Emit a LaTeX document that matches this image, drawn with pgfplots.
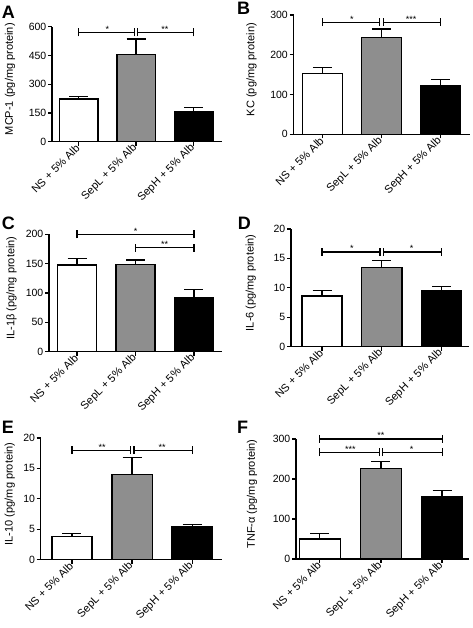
\documentclass[border=0pt]{standalone}
\usepackage{fontspec}
\setmainfont{Liberation Sans}
\usepackage{pgfplots}
\pgfplotsset{compat=1.18}
\definecolor{midgray}{HTML}{8E8E8E}
\pgfplotsset{
  panel/.style={
    scale only axis,
    anchor=south west,
    axis x line*=bottom, axis y line*=left,
    axis line style={line width=1.4pt, black},
    tick style={line width=1.3pt, black},
    major tick length=4pt,
    tick align=outside,
    xtick={0,1,2},
    xticklabels={NS + 5\% Alb, SepL + 5\% Alb, SepH + 5\% Alb},
    xticklabel style={rotate=45, anchor=east, font=\fontsize{11}{13}\selectfont, inner sep=1pt},
    yticklabel style={font=\fontsize{10.5}{12}\selectfont, inner sep=1.5pt},
    /pgf/number format/assume math mode=true,
    ymin=0,
    clip=false,
    every axis y label/.style={rotate=90, anchor=center, font=\fontsize{11}{13}\selectfont},
  },
  ylab/.style={every axis y label/.append style={at={([xshift=-#1, yshift=5pt]axis description cs:0,0.5)}}},
  bbar/.style={ybar, bar width=0.67, draw=black, line width=1.4pt,
     error bars/y dir=plus, error bars/y explicit,
     error bars/error mark=|,
     error bars/error bar style={line width=1.3pt, black},
     error bars/error mark options={mark size=9.5pt, line width=1.3pt, black}},
}
\tikzset{sigline/.style={line width=1.2pt, black},
  starnode/.style={anchor=base, font=\fontsize{9}{10}\selectfont, inner sep=0pt}}
\newcommand{\sig}[5]{%
  \draw[sigline] (axis cs:#1,#3) -- (axis cs:#2,#3);
  \draw[sigline] ([yshift=-4pt]axis cs:#1,#3) -- ([yshift=4pt]axis cs:#1,#3);
  \draw[sigline] ([yshift=-4pt]axis cs:#2,#3) -- ([yshift=4pt]axis cs:#2,#3);
  \node[starnode] at (axis cs:#5,#3) {#4};
}
\begin{document}
\begin{tikzpicture}
\useasboundingbox (0,0) rectangle (472pt,628pt);
% Panel letters
\node[anchor=base west, inner sep=0pt, font=\bfseries\fontsize{18}{20}\selectfont] at (1.7pt,609.7pt) {A};
\node[anchor=base west, inner sep=0pt, font=\bfseries\fontsize{18}{20}\selectfont] at (237pt,613pt) {B};
\node[anchor=base west, inner sep=0pt, font=\bfseries\fontsize{18}{20}\selectfont] at (1.7pt,398pt) {C};
\node[anchor=base west, inner sep=0pt, font=\bfseries\fontsize{18}{20}\selectfont] at (237.7pt,398pt) {D};
\node[anchor=base west, inner sep=0pt, font=\bfseries\fontsize{18}{20}\selectfont] at (1.7pt,194pt) {E};
\node[anchor=base west, inner sep=0pt, font=\bfseries\fontsize{18}{20}\selectfont] at (237pt,194pt) {F};

% A
\begin{axis}[panel, at={(52pt,486.3pt)}, width=170pt, height=115pt,
  xmin=-0.46, xmax=2.49, ymax=600, ytick={0,150,300,450,600},
  ylabel={MCP-1 (pg/mg protein)}, ylab=42pt]
\addplot[bbar, fill=white] coordinates {(0,222) +- (0,13)};
\addplot[bbar, fill=midgray] coordinates {(1,455) +- (0,80)};
\addplot[bbar, fill=black] coordinates {(2,156) +- (0,21)};
\sig{0}{0.97}{570}{*}{0.5}
\sig{1.03}{2}{570}{**}{1.5}
\end{axis}

% B
\begin{axis}[panel, at={(293.5pt,493.7pt)}, width=176pt, height=119.3pt,
  xmin=-0.49, xmax=2.49, ymax=300, ytick={0,100,200,300},
  ylabel={KC (pg/mg protein)}, ylab=42pt]
\addplot[bbar, fill=white] coordinates {(0,153) +- (0,14.5)};
\addplot[bbar, fill=midgray] coordinates {(1,243) +- (0,22)};
\addplot[bbar, fill=black] coordinates {(2,122) +- (0,16)};
\sig{0}{0.97}{282}{*}{0.5}
\sig{1.03}{2}{282}{***}{1.5}
\end{axis}

% C
\begin{axis}[panel, at={(49pt,276.3pt)}, width=173pt, height=117.4pt,
  xmin=-0.48, xmax=2.48, ymax=200, ytick={0,50,100,150,200},
  ylabel={IL-1β (pg/mg protein)}, ylab=37.5pt]
\addplot[bbar, fill=white] coordinates {(0,148) +- (0,10.5)};
\addplot[bbar, fill=midgray] coordinates {(1,149) +- (0,7)};
\addplot[bbar, fill=black] coordinates {(2,92) +- (0,14)};
\sig{0}{2}{200}{*}{1}
\sig{1}{2}{177}{**}{1.5}
\end{axis}

% D
\begin{axis}[panel, at={(291pt,281.3pt)}, width=178pt, height=117.7pt,
  xmin=-0.52, xmax=2.46, ymax=20, ytick={0,5,10,15,20},
  ylabel={IL-6 (pg/mg protein)}, ylab=40.3pt]
\addplot[bbar, fill=white] coordinates {(0,8.6) +- (0,0.9)};
\addplot[bbar, fill=midgray] coordinates {(1,13.5) +- (0,1.1)};
\addplot[bbar, fill=black] coordinates {(2,9.5) +- (0,0.75)};
\sig{0}{0.97}{16.1}{*}{0.5}
\sig{1.03}{2}{16.1}{*}{1.5}
\end{axis}

% E
\begin{axis}[panel, at={(40.7pt,68.3pt)}, width=181pt, height=121.7pt,
  xmin=-0.52, xmax=2.49, ymax=20, ytick={0,5,10,15,20},
  ylabel={IL-10 (pg/mg protein)}, ylab=31pt]
\addplot[bbar, fill=white] coordinates {(0,3.8) +- (0,0.5)};
\addplot[bbar, fill=midgray] coordinates {(1,14.0) +- (0,2.8)};
\addplot[bbar, fill=black] coordinates {(2,5.35) +- (0,0.45)};
\sig{0}{0.97}{18}{**}{0.5}
\sig{1.03}{2}{18}{**}{1.5}
\end{axis}

% F
\begin{axis}[panel, at={(296pt,69pt)}, width=173pt, height=120pt,
  xmin=-0.39, xmax=2.44, ymax=300, ytick={0,100,200,300},
  ylabel={TNF-α (pg/mg protein)}, ylab=44pt]
\addplot[bbar, fill=white] coordinates {(0,50) +- (0,13)};
\addplot[bbar, fill=midgray] coordinates {(1,226) +- (0,18)};
\addplot[bbar, fill=black] coordinates {(2,155) +- (0,16)};
\sig{0}{2}{300}{**}{1}
\sig{0}{0.97}{267}{***}{0.5}
\sig{1.03}{2}{267}{*}{1.5}
\end{axis}
\end{tikzpicture}
\end{document}
